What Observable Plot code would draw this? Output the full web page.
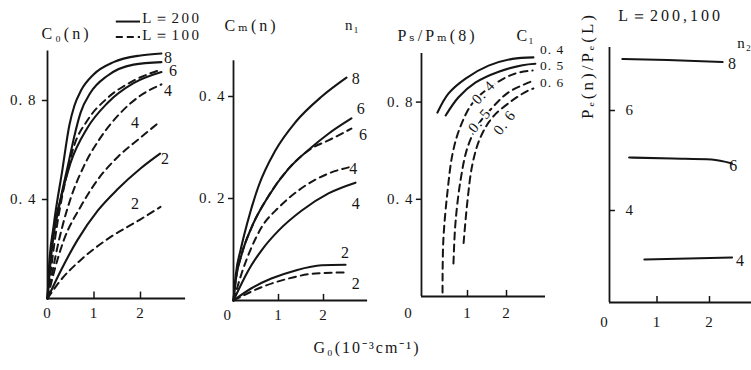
<!DOCTYPE html>
<html><head><meta charset="utf-8">
<script src="https://cdn.jsdelivr.net/npm/d3@7"></script>
<script src="https://cdn.jsdelivr.net/npm/@observablehq/plot@0.6"></script>
<style>
html,body{margin:0;padding:0;background:#fff;}
#wrap{position:relative;width:751px;height:370px;overflow:hidden;background:#fff;}
#wrap svg{position:absolute;left:0;top:0;}
#cap{position:absolute;left:0;width:734px;top:336px;text-align:center;font:16px "Liberation Serif",serif;color:#151515;letter-spacing:2px;}
</style></head><body>
<div id="wrap"><div id="cap">G₀(10⁻³cm⁻¹)</div></div>
<script>
// ---------------- data ----------------
const xTickValues = [0, 1, 2];

// Panel 1: C0(n)  (solid L=200, dashed L=100)
const c0YTicks = [0.4, 0.8];
const c0_L200_n8 = [[0,0],[0.03,0.12],[0.13,0.29],[0.32,0.52],[0.47,0.70],[0.58,0.78],[0.72,0.84],[0.99,0.905],[1.42,0.955],[2.0,0.982],[2.45,0.99]];
const c0_L200_n6 = [[0,0],[0.04,0.10],[0.1,0.21],[0.28,0.40],[0.46,0.555],[0.57,0.65],[0.71,0.75],[0.92,0.83],[1.29,0.90],[1.85,0.945],[2.45,0.955]];
const c0_L200_n4 = [[0,0],[0.1,0.23],[0.28,0.40],[0.49,0.545],[0.86,0.69],[1.29,0.79],[1.85,0.87],[2.45,0.915]];
const c0_L200_n2 = [[0,0],[0.28,0.11],[0.64,0.235],[1.08,0.355],[1.5,0.44],[2.0,0.525],[2.42,0.585]];
const c0_L100_n8 = [[0,0],[0.2,0.29],[0.39,0.48],[0.56,0.61],[0.86,0.72],[1.29,0.81],[1.85,0.88],[2.45,0.925]];
const c0_L100_n6 = [[0,0],[0.24,0.23],[0.49,0.40],[0.77,0.53],[1.14,0.65],[1.57,0.75],[2.0,0.82],[2.45,0.865]];
const c0_L100_n4 = [[0,0],[0.13,0.10],[0.34,0.23],[0.71,0.37],[1.08,0.48],[1.5,0.57],[2.0,0.65],[2.42,0.715]];
const c0_L100_n2 = [[0,0],[0.28,0.073],[0.71,0.155],[1.29,0.24],[2.0,0.32],[2.43,0.37]];
const c0Labels = ["8", "6", "4", "4", "2", "2"];

// Panel 2: Cm(n)
const cmYTicks = [0.2, 0.4];
const cm_L200_n8 = [[0,0],[0.05,0.05],[0.16,0.10],[0.3,0.15],[0.56,0.225],[0.93,0.294],[1.38,0.35],[1.96,0.40],[2.51,0.437]];
const cm_L200_n6 = [[0,0],[0.05,0.04],[0.18,0.09],[0.40,0.143],[0.78,0.205],[1.22,0.258],[1.73,0.30],[2.11,0.327],[2.62,0.357]];
const cm_L200_n4 = [[0,0],[0.33,0.059],[0.62,0.098],[1.0,0.137],[1.51,0.176],[2.11,0.21],[2.71,0.231]];
const cm_L200_n2 = [[0,0],[0.40,0.024],[0.84,0.043],[1.38,0.059],[1.96,0.069],[2.49,0.07]];
const cm_L100_n6 = [[0,0],[0.05,0.04],[0.18,0.09],[0.40,0.143],[0.78,0.205],[1.22,0.258],[1.73,0.298],[2.11,0.314],[2.62,0.337]];
const cm_L100_n4 = [[0,0],[0.18,0.053],[0.40,0.104],[0.62,0.143],[1.0,0.182],[1.51,0.22],[2.11,0.249],[2.56,0.261]];
const cm_L100_n2 = [[0,0],[0.62,0.026],[1.22,0.043],[1.82,0.053],[2.49,0.055]];
const cmLabels = ["8", "6", "6", "4", "4", "2", "2"];

// Panel 3: Ps/Pm(8), curves by C1
const pYTicks = [0.4, 0.8];
const p_solid_c04 = [[0.23,0.757],[0.51,0.835],[0.95,0.897],[1.54,0.95],[2.15,0.978],[2.69,0.984]];
const p_solid_c05 = [[0.44,0.745],[0.77,0.82],[1.2,0.88],[1.8,0.925],[2.41,0.952],[2.74,0.958]];
const p_dash_c04 = [[0.36,0.016],[0.38,0.23],[0.49,0.436],[0.62,0.59],[0.82,0.70],[1.15,0.80],[1.72,0.877],[2.23,0.918],[2.67,0.93]];
const p_dash_c05 = [[0.64,0.136],[0.69,0.30],[0.82,0.477],[1.0,0.613],[1.26,0.704],[1.64,0.778],[2.05,0.84],[2.56,0.88],[2.69,0.888]];
const p_dash_c06 = [[0.9,0.22],[1.0,0.395],[1.13,0.547],[1.33,0.654],[1.64,0.737],[2.15,0.807],[2.56,0.848],[2.69,0.856]];
const pRightLabels = ["0. 4", "0. 5", "0. 6"];
const pCurveLabels = ["0. 4", "0. 5", "0. 6"];

// Panel 4: Pe(n)/Pe(L)
const peYTicks = [4, 6];
const pe_n8 = [[0.34,7.03],[1.2,7.01],[2.25,6.97]];
const pe_n6 = [[0.47,5.06],[1.3,5.04],[2.04,5.02],[2.43,4.94]];
const pe_n4 = [[0.76,3.02],[1.6,3.04],[2.43,3.06]];
const peLabels = ["8", "6", "4"];

// ---------------- drawing ----------------
const INK = "#151515";
const FONT = '"Liberation Serif","DejaVu Serif",serif';
const W = 751, H = 340;
const wrap = document.getElementById("wrap");
const WIDE3 = new Set(["C₀(n)", "Cₘ(n)", "Pₛ/Pₘ(8)", "L＝200,100", "Pₑ(n)/Pₑ(L)"]);
const WIDE2 = new Set(["L＝200", "L＝100"]);

const rows = list => list.flatMap(([id, pts]) => pts.map(([x, y]) => ({id, x, y})));
const solid = (data, curve = "monotone-x") => Plot.line(rows(data), {x: "x", y: "y", z: "id", curve, stroke: INK, strokeWidth: 2.1});
const dashed = (data, curve = "monotone-x") => Plot.line(rows(data), {x: "x", y: "y", z: "id", curve, stroke: INK, strokeWidth: 2, strokeDasharray: "7,5"});

function axes(o) {
  return [
    Plot.ruleY([o.y0], {x1: o.x0, x2: o.xEnd, stroke: INK, strokeWidth: 1.8}),
    Plot.ruleX([o.x0], {y1: o.y0, y2: o.yEnd, stroke: INK, strokeWidth: 1.8}),
    Plot.ruleX(o.xTicks, {x: d => d, y1: o.y0, y2: o.y0 + o.xTickLen, stroke: INK, strokeWidth: 1.5}),
    Plot.ruleY(o.yTicks, {y: d => d, x1: o.x0, x2: o.x0 + o.yTickLen, stroke: INK, strokeWidth: 1.5}),
    Plot.text(o.xLabels, {x: d => d.x, y: o.y0, text: d => d.t, dy: o.xLabelDy, fontSize: 15}),
    Plot.text(o.yTicks, {x: o.x0, y: d => d, text: o.yFmt, dx: o.yLabelDx, textAnchor: o.yAnchor, fontSize: 15})
  ];
}

function draw(xDomain, xRange, yDomain, yRange, marks) {
  const svg = Plot.plot({
    width: W, height: H, margin: 0,
    x: {domain: xDomain, range: xRange, axis: null},
    y: {domain: yDomain, range: yRange, axis: null},
    style: {background: "transparent", fontFamily: FONT, color: INK, overflow: "visible", letterSpacing: "1px"},
    marks
  });
  svg.querySelectorAll("text").forEach(t => {
    const s = t.textContent;
    if (WIDE3.has(s)) t.style.letterSpacing = "3px";
    else if (WIDE2.has(s)) t.style.letterSpacing = "2.5px";
  });
  wrap.appendChild(svg);
}
const fmt1 = d => d3.format(".1f")(d).replace(".", ". ");

// Panel 1
draw([0, 3], [47, 186.5], [0, 1], [298, 50.5], [
  ...axes({x0: 0, y0: 0, xEnd: 2.97, yEnd: 1.0, xTicks: [1, 2], xTickLen: 0.026, yTicks: c0YTicks, yTickLen: -0.11,
    xLabels: xTickValues.map(v => ({x: v, t: String(v)})), xLabelDy: 15, yFmt: fmt1, yLabelDx: -11, yAnchor: "end"}),
  solid([["8", c0_L200_n8], ["6", c0_L200_n6], ["4", c0_L200_n4], ["2", c0_L200_n2]]),
  dashed([["8", c0_L100_n8], ["6", c0_L100_n6], ["4", c0_L100_n4], ["2", c0_L100_n2]]),
  Plot.text(c0Labels.map((t, i) => ({t, x: [2.60, 2.71, 2.60, 1.89, 2.54, 1.89][i], y: [0.974, 0.921, 0.84, 0.711, 0.566, 0.384][i]})),
    {x: "x", y: "y", text: "t", fontSize: 16}),
  Plot.text(["C₀(n)"], {x: 0.41, y: 1.07, text: d => d, fontSize: 16}),
  Plot.ruleY([1.119], {x1: 1.48, x2: 2.0, stroke: INK, strokeWidth: 2}),
  Plot.ruleY([1.057], {x1: 1.48, x2: 2.0, stroke: INK, strokeWidth: 2, strokeDasharray: "7,4"}),
  Plot.text(["L＝200", "L＝100"], {x: 2.04, y: (d, i) => [1.133, 1.064][i], text: d => d, textAnchor: "start", fontSize: 15})
]);

// Panel 2
draw([0, 3], [233, 368], [0, 0.5], [300, 45], [
  ...axes({x0: 0, y0: 0, xEnd: 2.98, yEnd: 0.47, xTicks: [1, 2], xTickLen: 0.012, yTicks: cmYTicks, yTickLen: -0.11,
    xLabels: [{x: -0.13, t: "0"}, {x: 1, t: "1"}, {x: 2, t: "2"}], xLabelDy: 15, yFmt: fmt1, yLabelDx: -8, yAnchor: "end"}),
  solid([["8", cm_L200_n8], ["6", cm_L200_n6], ["4", cm_L200_n4], ["2", cm_L200_n2]]),
  dashed([["6", cm_L100_n6], ["4", cm_L100_n4], ["2", cm_L100_n2]]),
  Plot.text(cmLabels.map((t, i) => ({t, x: [2.73, 2.84, 2.89, 2.67, 2.73, 2.49, 2.73][i], y: [0.435, 0.376, 0.324, 0.259, 0.19, 0.094, 0.033][i]})),
    {x: "x", y: "y", text: "t", fontSize: 16}),
  Plot.text(["Cₘ(n)"], {x: 0.4, y: 0.539, text: d => d, fontSize: 16}),
  Plot.text(["n₁"], {x: 2.64, y: 0.539, text: d => d, fontSize: 15})
]);

// Panel 3
draw([0, 3], [428, 545], [0, 1], [296, 53], [
  ...axes({x0: -0.18, y0: 0, xEnd: 3.0, yEnd: 1.0, xTicks: [1, 2], xTickLen: 0.025, yTicks: pYTicks, yTickLen: -0.13,
    xLabels: [{x: -0.51, t: "0"}, {x: 1, t: "1"}, {x: 2, t: "2"}], xLabelDy: 17, yFmt: fmt1, yLabelDx: -8, yAnchor: "end"}),
  solid([["0.4", p_solid_c04], ["0.5", p_solid_c05]], "catmull-rom"),
  dashed([["0.4", p_dash_c04], ["0.5", p_dash_c05], ["0.6", p_dash_c06]], "catmull-rom"),
  Plot.text(pRightLabels.map((t, i) => ({t, y: [1.016, 0.95, 0.88][i]})),
    {x: 2.86, y: "y", text: "t", textAnchor: "start", fontSize: 13.5}),
  Plot.text(pCurveLabels.map((t, i) => ({t, x: [1.41, 1.31, 1.95][i], y: [0.84, 0.724, 0.716][i], r: [-47, -50, -52][i]})),
    {x: "x", y: "y", text: "t", rotate: "r", fontSize: 15, stroke: "white", strokeWidth: 4, paintOrder: "stroke", fill: INK}),
  Plot.text(["Pₛ/Pₘ(8)"], {x: 0.23, y: 1.074, text: d => d, fontSize: 16}),
  Plot.text(["C₁"], {x: 2.49, y: 1.074, text: d => d, fontSize: 16})
]);

// Panel 4
draw([0, 3], [604, 761.5], [4, 6], [210, 110], [
  ...axes({x0: 0.095, y0: 2.16, xEnd: 3.0, yEnd: 7.26, xTicks: [1, 2], xTickLen: 0.12, yTicks: peYTicks, yTickLen: 0.114,
    xLabels: xTickValues.map(v => ({x: v, t: String(v)})), xLabelDy: 20, yFmt: d => String(d), yLabelDx: 16, yAnchor: "start"}),
  solid([["8", pe_n8], ["6", pe_n6], ["4", pe_n4]]),
  Plot.text(peLabels.map((t, i) => ({t, x: [2.44, 2.46, 2.59][i], y: [6.94, 4.9, 3.0][i]})),
    {x: "x", y: "y", text: "t", fontSize: 16}),
  Plot.text(["L＝200,100"], {x: 1.26, y: 7.9, text: d => d, fontSize: 16}),
  Plot.text(["n₂"], {x: 2.53, y: 7.34, text: d => d, textAnchor: "start", fontSize: 15}),
  Plot.text(["Pₑ(n)/Pₑ(L)"], {x: -0.33, y: 6.9, text: d => d, rotate: -90, fontSize: 17})
]);
</script></body></html>
